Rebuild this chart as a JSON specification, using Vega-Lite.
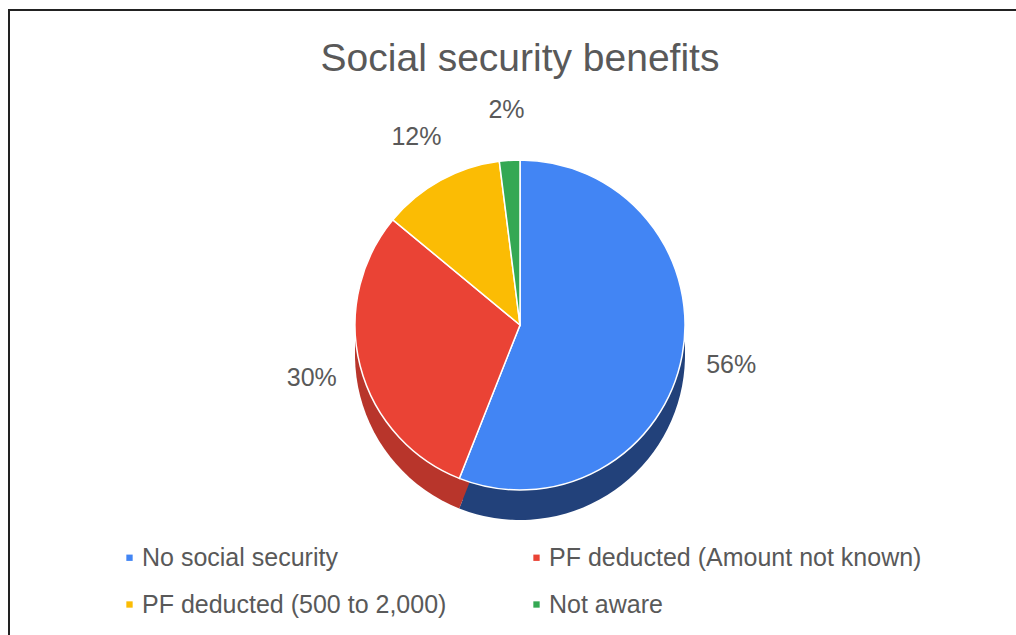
{
  "$schema": "https://vega.github.io/schema/vega-lite/v6.json",
  "width": 1022,
  "height": 630,
  "autosize": {"type": "none"},
  "padding": {"left": 9, "top": 10, "right": -15, "bottom": -5},
  "background": "white",
  "view": {"stroke": "#222222", "strokeWidth": 2, "fill": "white"},
  "config": {
    "view": {"stroke": "#222222", "strokeWidth": 2},
    "font": "Liberation Sans"
  },
  "title": {
    "text": "Social security benefits",
    "fontSize": 39,
    "fontWeight": "normal",
    "color": "#595959",
    "font": "Liberation Sans",
    "anchor": "middle",
    "offset": -69
  },
  "data": {
    "values": [
      {"idx": 1, "category": "No social security", "pct": 56, "label": "56%"},
      {"idx": 2, "category": "PF deducted (Amount not known)", "pct": 30, "label": "30%"},
      {"idx": 3, "category": "PF deducted (500 to 2,000)", "pct": 12, "label": "12%"},
      {"idx": 4, "category": "Not aware", "pct": 2, "label": "2%"}
    ]
  },
  "encoding": {
    "theta": {"field": "pct", "type": "quantitative", "stack": true},
    "order": {"field": "idx", "type": "quantitative"}
  },
  "layer": [
    {
      "mark": {"type": "arc", "outerRadius": 165, "yOffset": 10, "stroke": null},
      "encoding": {
        "fill": {
          "field": "label",
          "type": "nominal",
          "scale": {
            "domain": ["56%", "30%", "12%", "2%"],
            "range": ["#22417a", "#b8352b", "#c99600", "#24803c"]
          },
          "legend": null
        }
      }
    },
    {
      "mark": {"type": "arc", "outerRadius": 165, "yOffset": 20, "stroke": null},
      "encoding": {
        "fill": {"field": "label", "type": "nominal", "legend": null}
      }
    },
    {
      "mark": {"type": "arc", "outerRadius": 165, "yOffset": 30, "stroke": null},
      "encoding": {
        "fill": {"field": "label", "type": "nominal", "legend": null}
      }
    },
    {
      "mark": {"type": "arc", "outerRadius": 165, "stroke": "white", "strokeWidth": 1.5},
      "encoding": {
        "color": {
          "field": "category",
          "type": "nominal",
          "sort": null,
          "scale": {
            "domain": ["No social security", "PF deducted (500 to 2,000)", "PF deducted (Amount not known)", "Not aware"],
            "range": ["#4285F4", "#FBBC04", "#EA4335", "#34A853"]
          },
          "legend": {
            "title": null,
            "orient": "none",
            "legendX": 108,
            "legendY": 535,
            "columns": 2,
            "columnPadding": 77,
            "rowPadding": 21,
            "symbolType": "square",
            "symbolSize": 40,
            "symbolStrokeWidth": 0,
            "labelFontSize": 25,
            "labelColor": "#595959",
            "labelFont": "Liberation Sans",
            "labelLimit": 600,
            "labelOffset": 0
          }
        }
      }
    },
    {
      "mark": {"type": "text", "radius": 215, "fontSize": 25, "color": "#595959", "font": "Liberation Sans"},
      "encoding": {"text": {"field": "label", "type": "nominal"}}
    }
  ],
  "resolve": {"legend": {"color": "independent", "fill": "independent"}}
}
